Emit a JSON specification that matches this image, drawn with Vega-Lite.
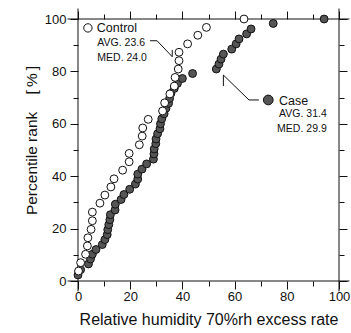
{
  "$schema": "https://vega.github.io/schema/vega-lite/v6.json",
  "width": 261,
  "height": 262,
  "autosize": {"type": "none"},
  "padding": {"left": 78, "top": 19, "right": 12, "bottom": 52},
  "background": "white",
  "config": {
    "view": {"stroke": null},
    "font": "Liberation Sans",
    "axis": {"grid": false, "domain": false, "labelFont": "Liberation Sans", "titleFont": "Liberation Sans", "titleFontWeight": "normal", "labelColor": "#111", "titleColor": "#111", "tickColor": "#111", "labelFlush": false, "labelOverlap": false}
  },
  "datasets": {
    "points": [
      {"group": "Case", "x": 0.0, "y": 2.3}, {"group": "Case", "x": 1.0, "y": 4.3}, {"group": "Case", "x": 4.0, "y": 6.5}, {"group": "Case", "x": 4.8, "y": 8.4}, {"group": "Case", "x": 5.5, "y": 10.2}, {"group": "Case", "x": 6.9, "y": 12.0}, {"group": "Case", "x": 9.3, "y": 13.9}, {"group": "Case", "x": 10.3, "y": 15.8}, {"group": "Case", "x": 11.2, "y": 17.7}, {"group": "Case", "x": 11.4, "y": 19.6}, {"group": "Case", "x": 11.8, "y": 21.5}, {"group": "Case", "x": 12.2, "y": 23.4}, {"group": "Case", "x": 12.4, "y": 25.3}, {"group": "Case", "x": 14.2, "y": 27.1}, {"group": "Case", "x": 14.3, "y": 29.3}, {"group": "Case", "x": 16.5, "y": 31.1}, {"group": "Case", "x": 17.6, "y": 33.0}, {"group": "Case", "x": 19.8, "y": 35.0}, {"group": "Case", "x": 22.0, "y": 37.0}, {"group": "Case", "x": 22.9, "y": 38.9}, {"group": "Case", "x": 22.9, "y": 40.8}, {"group": "Case", "x": 24.5, "y": 42.7}, {"group": "Case", "x": 26.3, "y": 44.7}, {"group": "Case", "x": 28.9, "y": 46.5}, {"group": "Case", "x": 29.1, "y": 48.5}, {"group": "Case", "x": 29.2, "y": 50.4}, {"group": "Case", "x": 29.8, "y": 52.4}, {"group": "Case", "x": 29.9, "y": 54.2}, {"group": "Case", "x": 30.5, "y": 56.2}, {"group": "Case", "x": 31.4, "y": 58.1}, {"group": "Case", "x": 31.6, "y": 60.0}, {"group": "Case", "x": 32.1, "y": 61.9}, {"group": "Case", "x": 33.0, "y": 63.8}, {"group": "Case", "x": 33.7, "y": 65.9}, {"group": "Case", "x": 34.7, "y": 67.8}, {"group": "Case", "x": 35.1, "y": 69.7}, {"group": "Case", "x": 35.6, "y": 71.6}, {"group": "Case", "x": 36.9, "y": 73.5}, {"group": "Case", "x": 38.1, "y": 75.4}, {"group": "Case", "x": 40.0, "y": 77.3}, {"group": "Case", "x": 43.9, "y": 79.2}, {"group": "Case", "x": 53.0, "y": 80.9}, {"group": "Case", "x": 54.0, "y": 82.8}, {"group": "Case", "x": 54.8, "y": 84.7}, {"group": "Case", "x": 55.7, "y": 86.6}, {"group": "Case", "x": 58.9, "y": 88.5}, {"group": "Case", "x": 60.6, "y": 90.5}, {"group": "Case", "x": 61.7, "y": 92.4}, {"group": "Case", "x": 64.6, "y": 94.3}, {"group": "Case", "x": 66.3, "y": 96.2}, {"group": "Case", "x": 74.8, "y": 98.3}, {"group": "Case", "x": 94.3, "y": 100.0},
      {"group": "Control", "x": 0.2, "y": 3.8}, {"group": "Control", "x": 1.0, "y": 7.0}, {"group": "Control", "x": 2.9, "y": 10.2}, {"group": "Control", "x": 3.6, "y": 13.4}, {"group": "Control", "x": 3.8, "y": 16.5}, {"group": "Control", "x": 5.0, "y": 19.7}, {"group": "Control", "x": 5.5, "y": 23.0}, {"group": "Control", "x": 5.5, "y": 26.3}, {"group": "Control", "x": 8.4, "y": 29.7}, {"group": "Control", "x": 10.3, "y": 32.8}, {"group": "Control", "x": 12.6, "y": 35.9}, {"group": "Control", "x": 13.8, "y": 39.0}, {"group": "Control", "x": 17.1, "y": 42.3}, {"group": "Control", "x": 19.6, "y": 45.5}, {"group": "Control", "x": 19.6, "y": 48.7}, {"group": "Control", "x": 23.5, "y": 52.0}, {"group": "Control", "x": 24.6, "y": 55.3}, {"group": "Control", "x": 24.8, "y": 58.4}, {"group": "Control", "x": 26.9, "y": 61.7}, {"group": "Control", "x": 32.4, "y": 64.9}, {"group": "Control", "x": 33.2, "y": 68.0}, {"group": "Control", "x": 35.2, "y": 71.4}, {"group": "Control", "x": 36.9, "y": 74.4}, {"group": "Control", "x": 37.2, "y": 77.7}, {"group": "Control", "x": 38.4, "y": 80.9}, {"group": "Control", "x": 38.7, "y": 84.1}, {"group": "Control", "x": 38.7, "y": 87.3}, {"group": "Control", "x": 42.0, "y": 90.5}, {"group": "Control", "x": 45.9, "y": 93.8}, {"group": "Control", "x": 49.2, "y": 96.8}, {"group": "Control", "x": 63.6, "y": 100.0}
    ],
    "frame": [
      {"x": -4, "x2": 104, "y": 0, "y2": 0},
      {"x": -4, "x2": 104, "y": 100, "y2": 100},
      {"x": 0, "x2": 0, "y": -4, "y2": 104},
      {"x": 100, "x2": 100, "y": -4, "y2": 104}
    ],
    "legendSymbols": [
      {"group": "Case", "x": 72.9, "y": 69.1},
      {"group": "Control", "x": 3.8, "y": 96.6}
    ],
    "names": [
      {"label": "Control", "x": 7.2, "y": 96.6},
      {"label": "Case", "x": 77.0, "y": 68.7}
    ],
    "statsLeft": [
      {"label": "AVG. 23.6", "x": 7.4, "y": 90.8},
      {"label": "MED. 24.0", "x": 7.4, "y": 85.1}
    ],
    "statsRight": [
      {"label": "AVG. 31.4", "x": 95.3, "y": 63.6},
      {"label": "MED. 29.9", "x": 95.3, "y": 57.9}
    ],
    "leaders": [
      {"id": "Control", "seq": 1, "x": 27.6, "y": 91.7},
      {"id": "Control", "seq": 2, "x": 30.3, "y": 91.7},
      {"id": "Control", "seq": 3, "x": 36.1, "y": 85.6},
      {"id": "Control", "seq": 4, "x": 36.1, "y": 88.2},
      {"id": "Case", "seq": 1, "x": 55.7, "y": 74.4},
      {"id": "Case", "seq": 2, "x": 55.7, "y": 78.6},
      {"id": "Case", "seq": 3, "x": 65.5, "y": 69.1},
      {"id": "Case", "seq": 4, "x": 69.3, "y": 69.1}
    ]
  },
  "resolve": {"axis": {"x": "independent", "y": "independent"}},
  "layer": [
    {
      "data": {"name": "frame"},
      "mark": {"type": "rule", "color": "#111", "strokeWidth": 1, "clip": false},
      "encoding": {
        "x": {"field": "x", "type": "quantitative", "scale": {"domain": [0, 100], "nice": false, "zero": false},
          "axis": {"orient": "top", "values": [0, 10, 20, 30, 40, 50, 60, 70, 80, 90, 100], "labels": false, "title": null,
            "tickSize": {"condition": {"test": "datum.value % 20 === 0", "value": 8}, "value": 5}}},
        "x2": {"field": "x2"},
        "y": {"field": "y", "type": "quantitative", "scale": {"domain": [0, 100], "nice": false, "zero": false},
          "axis": {"orient": "right", "values": [0, 10, 20, 30, 40, 50, 60, 70, 80, 90, 100], "labels": false, "title": null,
            "tickSize": {"condition": {"test": "datum.value % 20 === 0", "value": 8}, "value": 5}}},
        "y2": {"field": "y2"}
      }
    },
    {
      "data": {"name": "leaders"},
      "mark": {"type": "line", "color": "#111", "strokeWidth": 1, "clip": false},
      "encoding": {
        "x": {"field": "x", "type": "quantitative", "scale": {"domain": [0, 100], "nice": false, "zero": false}, "axis": null},
        "y": {"field": "y", "type": "quantitative", "scale": {"domain": [0, 100], "nice": false, "zero": false}, "axis": null},
        "detail": {"field": "id"},
        "order": {"field": "seq", "type": "quantitative"}
      }
    },
    {
      "data": {"name": "points"},
      "mark": {"type": "point", "shape": "circle", "filled": true, "stroke": "#111", "strokeWidth": 1, "opacity": 1, "size": 62, "clip": false},
      "encoding": {
        "x": {"field": "x", "type": "quantitative", "scale": {"domain": [0, 100], "nice": false, "zero": false},
          "axis": {"orient": "bottom", "values": [0, 10, 20, 30, 40, 50, 60, 70, 80, 90, 100],
            "labelExpr": "datum.value % 20 === 0 ? datum.label : ''",
            "tickSize": {"condition": {"test": "datum.value % 20 === 0", "value": 8}, "value": 5},
            "labelFontSize": 13, "labelPadding": 1,
            "title": "Relative humidity 70%rh excess rate", "titleFontSize": 16, "titlePadding": 8}},
        "y": {"field": "y", "type": "quantitative", "scale": {"domain": [0, 100], "nice": false, "zero": false},
          "axis": {"orient": "left", "values": [0, 10, 20, 30, 40, 50, 60, 70, 80, 90, 100],
            "labelExpr": "datum.value % 20 === 0 ? datum.label : ''",
            "tickSize": {"condition": {"test": "datum.value % 20 === 0", "value": 8}, "value": 5},
            "labelFontSize": 13, "labelPadding": 4,
            "title": "Percentile rank\u00a0\u00a0\u00a0\u00a0[\u2009%\u2009]", "titleFontSize": 15.5, "titlePadding": 5, "titleY": 121}},
        "fill": {"field": "group", "type": "nominal", "scale": {"domain": ["Case", "Control"], "range": ["#555555", "#ffffff"]}, "legend": null}
      }
    },
    {
      "data": {"name": "legendSymbols"},
      "mark": {"type": "point", "shape": "circle", "filled": true, "stroke": "#111", "strokeWidth": 1, "opacity": 1, "clip": false},
      "encoding": {
        "x": {"field": "x", "type": "quantitative", "scale": {"domain": [0, 100], "nice": false, "zero": false}, "axis": null},
        "y": {"field": "y", "type": "quantitative", "scale": {"domain": [0, 100], "nice": false, "zero": false}, "axis": null},
        "fill": {"field": "group", "type": "nominal", "scale": {"domain": ["Case", "Control"], "range": ["#555555", "#ffffff"]}, "legend": null},
        "size": {"condition": {"test": "datum.group === 'Case'", "value": 95}, "value": 70}
      }
    },
    {
      "data": {"name": "names"},
      "mark": {"type": "text", "align": "left", "baseline": "middle", "fontSize": 12.5, "color": "#111", "font": "Liberation Sans"},
      "encoding": {
        "x": {"field": "x", "type": "quantitative", "scale": {"domain": [0, 100], "nice": false, "zero": false}, "axis": null},
        "y": {"field": "y", "type": "quantitative", "scale": {"domain": [0, 100], "nice": false, "zero": false}, "axis": null},
        "text": {"field": "label"}
      }
    },
    {
      "data": {"name": "statsLeft"},
      "mark": {"type": "text", "align": "left", "baseline": "middle", "fontSize": 10.5, "color": "#111", "font": "Liberation Sans"},
      "encoding": {
        "x": {"field": "x", "type": "quantitative", "scale": {"domain": [0, 100], "nice": false, "zero": false}, "axis": null},
        "y": {"field": "y", "type": "quantitative", "scale": {"domain": [0, 100], "nice": false, "zero": false}, "axis": null},
        "text": {"field": "label"}
      }
    },
    {
      "data": {"name": "statsRight"},
      "mark": {"type": "text", "align": "right", "baseline": "middle", "fontSize": 10.5, "color": "#111", "font": "Liberation Sans"},
      "encoding": {
        "x": {"field": "x", "type": "quantitative", "scale": {"domain": [0, 100], "nice": false, "zero": false}, "axis": null},
        "y": {"field": "y", "type": "quantitative", "scale": {"domain": [0, 100], "nice": false, "zero": false}, "axis": null},
        "text": {"field": "label"}
      }
    }
  ]
}
